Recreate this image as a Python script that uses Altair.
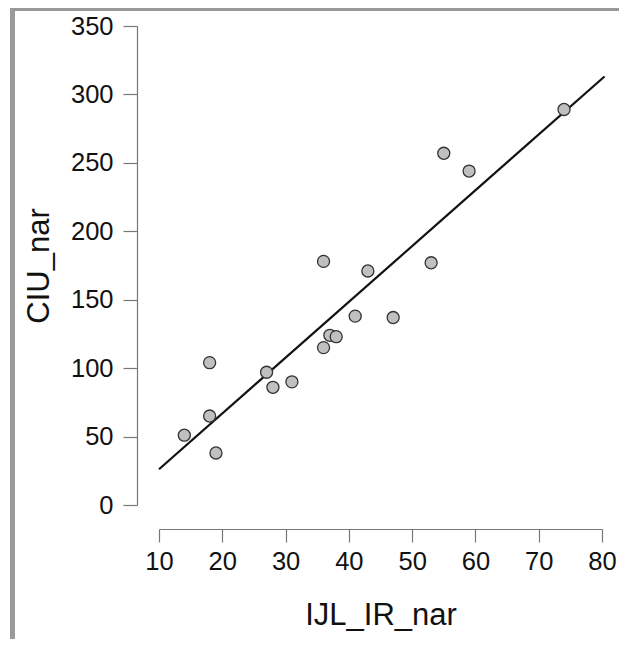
import altair as alt
import pandas as pd

ijl_ir_nar = [74, 55, 59, 36, 43, 53, 41, 47, 37, 38, 36, 18, 27, 28, 31, 18, 14, 19]
ciu_nar = [289, 257, 244, 178, 171, 177, 138, 137, 124, 123, 115, 104, 97, 86, 90, 65, 51, 38]
x_ticks = [10, 20, 30, 40, 50, 60, 70, 80]
y_ticks = [0, 50, 100, 150, 200, 250, 300, 350]

df = pd.DataFrame({"IJL_IR_nar": ijl_ir_nar, "CIU_nar": ciu_nar})

FONT = "Liberation Sans"
W, H = 443, 479
PL, PT, PR, PB = 151, 18, 17, 134

xscale = alt.Scale(domain=[10, 80], nice=False, zero=False)
yscale = alt.Scale(domain=[0, 350], nice=False, zero=False)

xaxis = alt.Axis(values=x_ticks, offset=24, grid=False, tickSize=13, labelPadding=7,
                 labelFontSize=25.5, labelFont=FONT, labelColor="#111",
                 domainColor="#777", tickColor="#777", domainWidth=1.2, tickWidth=1.2,
                 title="IJL_IR_nar", titleFontSize=31, titleFont=FONT, titleFontWeight="normal",
                 titleColor="#111", titleY=95, titleBaseline="alphabetic",
                 labelFlush=False, labelOverlap=False)
yaxis = alt.Axis(values=y_ticks, offset=22, grid=False, tickSize=14, labelPadding=10,
                 labelFontSize=25.5, labelFont=FONT, labelColor="#111",
                 domainColor="#777", tickColor="#777", domainWidth=1.2, tickWidth=1.2,
                 title="CIU_nar", titleFontSize=31, titleFont=FONT, titleFontWeight="normal",
                 titleColor="#111", titleX=-89, titleY=H / 2, titleAngle=270,
                 titleAlign="center", titleBaseline="alphabetic",
                 labelFlush=False, labelOverlap=False)

base = alt.Chart(df)

line = base.transform_regression(
    "IJL_IR_nar", "CIU_nar", extent=[10, 80.4]
).mark_line(color="#111", strokeWidth=2.2).encode(
    x=alt.X("IJL_IR_nar:Q", scale=xscale, axis=xaxis),
    y=alt.Y("CIU_nar:Q", scale=yscale, axis=yaxis),
)

points = base.mark_point(filled=True, fill="#c0c0c0", stroke="#333", strokeWidth=1.3,
                         opacity=1, size=145, shape="circle").encode(
    x=alt.X("IJL_IR_nar:Q", scale=xscale, axis=xaxis),
    y=alt.Y("CIU_nar:Q", scale=yscale, axis=yaxis),
)

frame_data = alt.Data(values=[{}])
left_band = alt.Chart(frame_data).mark_rect(color="#9a9a9c").encode(
    x=alt.value(-PL + 2), x2=alt.value(-PL + 7),
    y=alt.value(-PT), y2=alt.value(H + PB),
)
top_band = alt.Chart(frame_data).mark_rect(color="#9a9a9c").encode(
    x=alt.value(-PL + 2), x2=alt.value(W + PR),
    y=alt.value(-PT), y2=alt.value(-PT + 3),
)

chart = alt.layer(left_band, top_band, line, points).properties(
    width=W, height=H,
    autosize=alt.AutoSizeParams(type="none"),
    padding={"left": PL, "top": PT, "right": PR, "bottom": PB},
).configure(background="white").configure_view(stroke=None, strokeWidth=0)

chart.save("out.html", embed_options={"renderer": "svg", "actions": False})
